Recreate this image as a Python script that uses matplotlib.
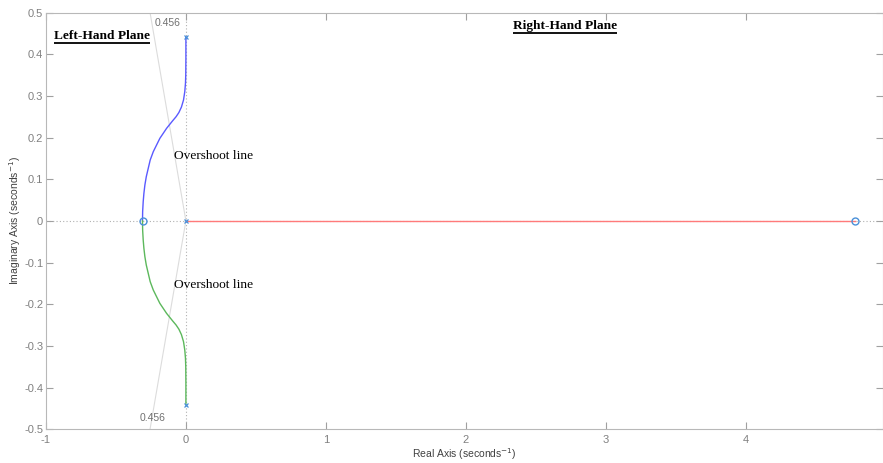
import numpy as np
import matplotlib.pyplot as plt

# branch from the upper pole to the left-hand zero (lower branch is its mirror)
branch_re = [0.0, 0.0, -0.001, -0.003, -0.008, -0.017, -0.032, -0.05, -0.07, -0.095, -0.138,
             -0.186, -0.233, -0.255, -0.269, -0.283, -0.293, -0.300, -0.305, -0.309, -0.31]
branch_im = [0.441, 0.39, 0.35, 0.33, 0.31, 0.29, 0.273, 0.26, 0.25, 0.24, 0.222,
             0.198, 0.166, 0.146, 0.126, 0.106, 0.086, 0.066, 0.046, 0.022, 0.0]

poles_re = [0.0, 0.0, 0.0]
poles_im = [0.441, 0.0, -0.441]
zeros_re = [-0.31, 4.78]
zeros_im = [0.0, 0.0]

damping = 0.456
damp_label = "0.456"

plt.rcParams["font.family"] = ["Liberation Sans", "DejaVu Sans"]

fig = plt.figure(figsize=(8.83, 4.63), dpi=100)
ax = fig.add_axes([0.052, 0.073, 0.948, 0.9])

ax.set_xlim(-1, 4.98)
ax.set_ylim(-0.5, 0.5)

# origin grid lines
ax.axhline(0, color="#b0b0b0", lw=0.8, ls=(0, (1, 2)), zorder=1)
ax.axvline(0, color="#b0b0b0", lw=0.8, ls=(0, (1, 2)), zorder=1)

# constant damping ray
slope = np.sqrt(1 - damping ** 2) / damping
edge_re = -0.5 / slope
ax.plot([0, edge_re], [0, 0.5], color="#dcdcdc", lw=0.8, zorder=1)
ax.plot([0, edge_re], [0, -0.5], color="#dcdcdc", lw=0.8, zorder=1)
ax.text(-0.13, 0.474, damp_label, color="#707070", fontsize=7.5, ha="center", va="center")
ax.text(-0.24, -0.473, damp_label, color="#707070", fontsize=7.5, ha="center", va="center")

# root locus branches
ax.plot(branch_re, branch_im, color="#5a5aff", lw=1.0, zorder=3)
ax.plot(branch_re, [-v for v in branch_im], color="#5cb85c", lw=1.0, zorder=3)
ax.plot([poles_re[1], zeros_re[1]], [poles_im[1], zeros_im[1]], color="#ff7a7a", lw=1.0, zorder=3)

ax.plot(poles_re, poles_im, "x", color="#4a90d9", ms=3.5, mew=0.9, zorder=4)
ax.plot(zeros_re, zeros_im, "o", mfc="none", mec="#4a90d9", ms=5, mew=1.0, zorder=4)

ax.set_xticks([-1, 0, 1, 2, 3, 4])
ax.set_xticklabels(["-1", "0", "1", "2", "3", "4"])
ax.set_yticks(np.arange(-0.5, 0.51, 0.1))
ax.set_yticklabels(["-0.5", "-0.4", "-0.3", "-0.2", "-0.1", "0", "0.1", "0.2", "0.3", "0.4", "0.5"])
ax.tick_params(direction="in", top=True, right=True, length=5, width=0.8,
               colors="#a0a0a0", labelcolor="#808080", labelsize=8)
ax.tick_params(axis="x", pad=4)
ax.tick_params(axis="y", pad=2)
for sp in ax.spines.values():
    sp.set_color("#b8b8b8")
    sp.set_linewidth(0.8)

ax.set_xlabel("Real Axis (seconds$^{-1}$)", fontsize=7.5, color="#404040", labelpad=1)
ax.set_ylabel("Imaginary Axis (seconds$^{-1}$)", fontsize=7.5, color="#404040")
ax.yaxis.set_label_coords(-0.027, 0.5)

serif = ["Liberation Serif", "DejaVu Serif"]
ax.text(-0.086, 0.155, "Overshoot line", family=serif, fontsize=9.6, va="center")
ax.text(-0.086, -0.155, "Overshoot line", family=serif, fontsize=9.6, va="center")

titles = [
    ax.text(-0.257, 0.443, "Left-Hand Plane", family=serif, fontsize=9.6, fontweight="bold", ha="right", va="center"),
    ax.text(2.71, 0.467, "Right-Hand Plane", family=serif, fontsize=9.6, fontweight="bold", ha="center", va="center"),
]

# underline the plane labels
fig.canvas.draw()
rend = fig.canvas.get_renderer()
inv = ax.transData.inverted()
for t in titles:
    bb = t.get_window_extent(rend)
    (x0, y0), (x1, _) = inv.transform([(bb.x0, bb.y0 - 0.5), (bb.x1, bb.y0)])
    ax.plot([x0, x1], [y0, y0], color="black", lw=1.3, solid_capstyle="butt")

fig.savefig("out.png", dpi=100)
